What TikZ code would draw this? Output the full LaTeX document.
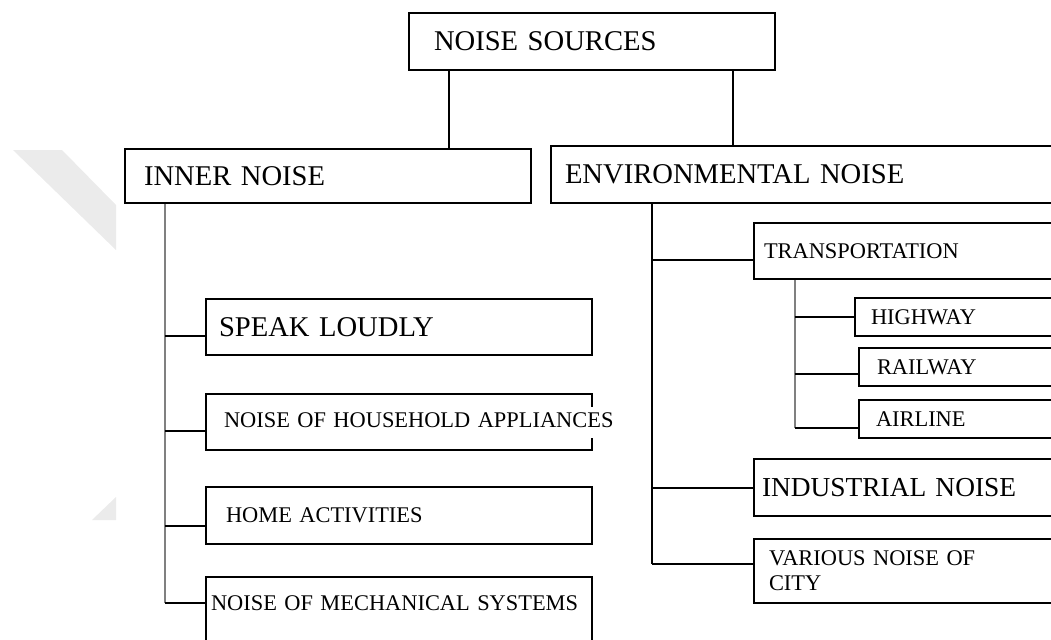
\documentclass[tikz,border=0pt]{standalone}
\usepackage{fontspec}
\setmainfont{Liberation Serif}
\usetikzlibrary{calc}

\begin{document}
\begin{tikzpicture}[x=0.5pt, y=-0.5pt, line join=miter,
        box/.style={draw, line width=1pt, anchor=north west, inner ysep=0pt, align=left},
        big/.style={font=\fontsize{14.3}{17}\selectfont},
        small/.style={font=\fontsize{11.2}{12.5}\selectfont},
        link/.style={line width=1pt},
        trunk/.style={line width=1pt, black!50}]
    \useasboundingbox (0, 0) rectangle (1051, 639);
    \clip (0, 0) rectangle (1051, 639);

    \fill[black!8] (13, 150) -- (62, 150) -- (116, 205) -- (116, 250) -- cycle;
    \fill[black!8] (92, 520) -- (116, 497) -- (116, 520) -- cycle;

    \node[box, big, minimum width=183pt, minimum height=28.5pt, inner xsep=12.5pt, text width=158pt] (src) at (408, 12) {NOISE SOURCES};
    \node[box, big, minimum width=203pt, minimum height=27pt, inner xsep=9.5pt, text width=184pt] (inner) at (124, 148) {INNER NOISE};
    \node[box, big, minimum width=260pt, minimum height=28.5pt, inner xsep=7pt, text width=246pt] (env) at (550, 145) {ENVIRONMENTAL NOISE};

    \node[box, big, minimum width=193pt, minimum height=28pt, inner xsep=6.5pt, text width=180pt] (speak) at (205, 298) {SPEAK LOUDLY};
    \node[box, small, minimum width=193pt, minimum height=28pt, inner xsep=9pt, text width=175pt] (house) at (205, 393) {\mbox{\fboxsep=0pt\colorbox{white}{\rule[-5pt]{0pt}{15.5pt}NOISE OF HOUSEHOLD APPLIANCES}}};
    \node[box, small, minimum width=193pt, minimum height=28.5pt, inner xsep=10pt, text width=173pt] (home) at (205, 486) {HOME ACTIVITIES};
    \node[box, small, minimum width=193pt, minimum height=40pt, inner xsep=2.5pt, text width=188pt, text height=9pt, text depth=15.9pt] (mech) at (205, 576) {\mbox{NOISE OF MECHANICAL SYSTEMS}};

    \node[box, small, minimum width=160pt, minimum height=28pt, inner xsep=5pt, text width=150pt] (trans) at (753, 222) {TRANSPORTATION};
    \node[box, small, minimum width=110pt, minimum height=19pt, inner xsep=8pt, text width=94pt] (hwy) at (854, 297) {HIGHWAY};
    \node[box, small, minimum width=108pt, minimum height=19pt, inner xsep=9pt, text width=90pt] (rail) at (858, 347) {RAILWAY};
    \node[box, small, minimum width=108pt, minimum height=19pt, inner xsep=8.5pt, text width=91pt] (air) at (858, 399) {AIRLINE};
    \node[box, font=\fontsize{13.7}{16}\selectfont, minimum width=160pt, minimum height=28.5pt, inner xsep=4pt, text width=152pt] (ind) at (753, 458) {INDUSTRIAL NOISE};
    \node[box, small, minimum width=160pt, minimum height=32pt, inner xsep=7.5pt, text width=145pt] (city) at (753, 538) {VARIOUS NOISE OF\\CITY};

    \draw[link] ($(src.south west)+(41, 0)$) coordinate (s1) -- (s1 |- inner.north);
    \draw[link] ($(src.south west)+(325, 0)$) coordinate (s2) -- (s2 |- env.north);

    \coordinate (itr) at ($(inner.south west)+(41, 0)$);
    \foreach \n/\dy in {speak/9, house/9, home/10, mech/-14}
        \coordinate (\n-in) at ($(\n.west)+(0, \dy)$);
    \draw[trunk] (itr) -- (itr |- mech-in);
    \foreach \n in {speak, house, home, mech}
        \draw[link] (itr |- \n-in) -- (\n-in);

    \coordinate (etr) at ($(env.south west)+(102, 0)$);
    \foreach \n/\dy in {trans/9, ind/0, city/-7}
        \coordinate (\n-in) at ($(\n.west)+(0, \dy)$);
    \draw[link] (etr) -- (etr |- city-in);
    \foreach \n in {trans, ind, city}
        \draw[link] (etr |- \n-in) -- (\n-in);

    \coordinate (ttr) at ($(trans.south west)+(41.5, 0)$);
    \foreach \n/\dy in {hwy/0, rail/7, air/9}
        \coordinate (\n-in) at ($(\n.west)+(0, \dy)$);
    \draw[trunk] (ttr) -- (ttr |- air-in);
    \foreach \n in {hwy, rail, air}
        \draw[link] (ttr |- \n-in) -- (\n-in);
\end{tikzpicture}
\end{document}
